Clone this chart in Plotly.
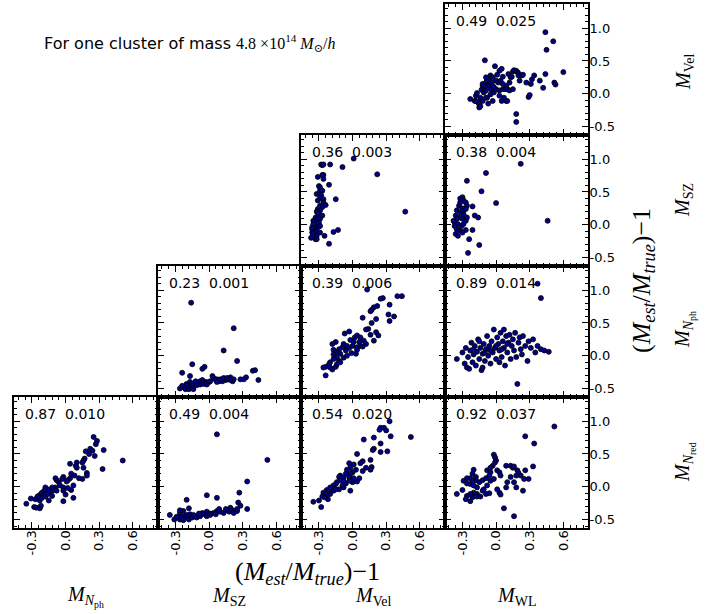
import plotly.graph_objects as go

# ---------------- data (fractional mass bias, (M_est/M_true)-1) ----------------
# Row 1: x = M_WL, y = M_Vel
wl_vel_x = [-0.23,-0.19,-0.18,-0.17,-0.16,-0.15,-0.15,-0.14,-0.13,-0.12,-0.12,-0.12,-0.11,-0.10,-0.10,-0.09,-0.09,-0.09,
            -0.08,-0.08,-0.07,-0.06,-0.06,-0.06,-0.05,-0.05,-0.04,-0.04,-0.03,-0.03,-0.03,-0.02,-0.01,0.00,0.00,0.01,
            0.02,0.03,0.03,0.04,0.05,0.05,0.06,0.06,0.07,0.08,0.09,0.09,0.10,0.11,0.12,0.12,0.13,0.14,0.15,0.15,
            0.16,0.18,0.19,0.20,0.20,0.21,0.23,0.24,0.27,0.29,0.30,0.31,0.32,0.34,0.39,0.42,0.44,0.44,0.45,0.51,
            0.52,0.53,0.60,0.18,0.18,-0.18,-0.14,-0.09,-0.02,0.03,0.10,0.06,-0.09]
wl_vel_y = [-0.08,-0.11,-0.03,0.01,-0.13,-0.21,-0.16,-0.06,0.06,0.12,0.15,-0.11,0.02,0.07,0.51,0.17,0.11,0.05,
            0.20,-0.06,-0.15,0.09,0.15,0.24,0.28,-0.01,0.17,0.06,-0.11,0.12,0.25,0.02,0.42,0.20,0.07,0.29,
            0.17,0.05,0.35,0.20,0.38,-0.11,0.07,0.26,-0.06,0.07,-0.11,0.12,0.07,0.30,0.05,0.17,0.25,0.26,0.07,0.34,
            0.36,0.35,0.33,0.31,0.28,0.20,0.28,0.29,0.17,-0.05,-0.02,0.15,0.22,0.28,0.20,0.09,0.30,0.94,0.67,0.80,
            0.17,0.14,0.33,-0.31,-0.43,-0.11,-0.19,-0.06,0.10,-0.03,-0.11,0.15,0.25]

# Row 2: x = M_Vel, y = M_SZ
vel_sz_x = [-0.28,-0.27,-0.26,-0.20,-0.09,0.01,0.22,0.47,-0.31,-0.26,-0.26,-0.27,-0.21,-0.30,-0.29,-0.29,-0.27,
            -0.32,-0.28,-0.29,-0.26,-0.31,-0.26,-0.24,-0.29,-0.27,-0.31,-0.29,-0.32,-0.30,-0.33,-0.31,-0.29,-0.35,
            -0.32,-0.30,-0.35,-0.33,-0.31,-0.36,-0.34,-0.32,-0.36,-0.35,-0.32,-0.37,-0.33,-0.29,-0.25,-0.21,-0.17,
            -0.13,-0.15,-0.32,-0.34,-0.31,-0.27,-0.29,-0.36,-0.35]
vel_sz_y = [0.92,0.91,0.92,0.92,0.88,1.01,0.77,0.20,0.73,0.70,0.76,0.76,0.61,0.59,0.57,0.52,0.52,
            0.47,0.45,0.41,0.39,0.37,0.34,0.30,0.29,0.27,0.24,0.22,0.20,0.16,0.11,0.10,0.09,0.06,
            0.04,0.03,-0.01,-0.02,-0.04,-0.07,-0.09,-0.11,-0.12,-0.14,-0.17,-0.20,-0.22,-0.12,-0.17,-0.29,-0.11,
            -0.08,0.39,-0.22,-0.03,0.18,0.14,-0.02,-0.04,0.01]

# Row 2: x = M_WL, y = M_SZ
wl_sz_x = [-0.26,-0.09,-0.13,0.00,0.22,0.46,-0.30,-0.32,-0.29,-0.27,-0.26,-0.21,-0.33,-0.30,-0.35,-0.32,-0.29,
           -0.19,-0.16,-0.36,-0.33,-0.30,-0.27,-0.37,-0.34,-0.31,-0.37,-0.35,-0.32,-0.27,-0.21,-0.36,-0.34,-0.24,
           -0.15,-0.25,-0.29,-0.26,-0.29,-0.32,-0.35,-0.38,-0.30,-0.27]
wl_sz_y = [0.67,0.79,0.51,0.33,0.93,0.06,0.42,0.40,0.37,0.34,0.29,0.28,0.29,0.25,0.22,0.19,0.16,
           0.14,0.11,0.14,0.11,0.09,0.06,0.04,0.01,-0.02,-0.02,-0.07,-0.09,-0.08,-0.08,-0.14,-0.17,-0.22,
           -0.31,-0.43,0.01,0.11,0.22,0.34,0.09,0.06,-0.12,0.24]

# Row 3: x = M_SZ, y = M_Nph
sz_nph_x = [-0.16,0.22,0.13,0.25,-0.15,-0.06,-0.04,-0.24,-0.17,0.39,0.41,0.33,0.28,0.31,0.44,0.19,0.17,0.21,
            0.15,0.12,0.03,0.04,0.07,0.09,0.00,-0.03,-0.06,-0.09,-0.12,-0.14,-0.17,-0.20,-0.23,-0.26,-0.21,-0.18,
            -0.15,-0.11,-0.08,-0.05,-0.02,0.01,0.06,0.10,0.13,0.16,0.22,-0.20,-0.17,-0.15,-0.12,-0.08,-0.06,-0.24,
            -0.20,-0.14,-0.02,0.07,0.19]
sz_nph_y = [0.81,0.42,0.08,-0.08,-0.13,-0.20,-0.17,-0.26,-0.31,-0.23,-0.22,-0.33,-0.36,-0.36,-0.37,-0.33,-0.36,-0.39,
            -0.37,-0.39,-0.31,-0.34,-0.36,-0.39,-0.40,-0.40,-0.41,-0.41,-0.43,-0.45,-0.46,-0.48,-0.48,-0.50,-0.51,-0.51,
            -0.49,-0.45,-0.44,-0.43,-0.41,-0.39,-0.37,-0.36,-0.34,-0.34,-0.36,-0.43,-0.40,-0.43,-0.39,-0.39,-0.37,-0.46,
            -0.45,-0.51,-0.44,-0.40,-0.37]

# Row 3: x = M_Vel, y = M_Nph
vel_nph_x = [0.13,0.40,0.44,0.27,0.25,0.33,0.22,0.19,0.17,0.16,0.32,0.37,0.09,0.21,0.17,0.33,0.14,0.12,0.21,0.23,
             0.19,-0.07,-0.03,0.04,0.02,0.07,0.10,0.06,-0.02,0.01,-0.08,-0.05,-0.09,-0.15,-0.18,-0.17,-0.12,-0.14,
             -0.11,-0.06,-0.03,0.00,0.04,0.03,-0.14,-0.17,-0.12,-0.08,-0.20,-0.21,-0.24,-0.26,-0.20,-0.18,-0.15,
             -0.11,-0.14,-0.24,-0.05,-0.01,0.04,0.07,0.12,0.16,0.09,-0.17]
vel_nph_y = [1.01,0.91,0.91,0.88,0.87,0.78,0.76,0.74,0.70,0.68,0.63,0.60,0.58,0.56,0.50,0.53,0.41,0.40,0.36,0.31,
             0.23,0.34,0.37,0.31,0.28,0.28,0.23,0.21,0.24,0.21,0.18,0.15,0.13,0.21,0.18,0.09,0.10,0.05,
             0.03,0.08,0.12,0.15,0.09,0.03,-0.03,-0.05,-0.08,-0.03,-0.10,-0.13,-0.17,-0.18,-0.18,-0.21,-0.17,
             -0.10,-0.13,-0.30,0.00,0.04,0.13,0.15,0.18,0.32,0.14,0.02]

# Row 3: x = M_WL, y = M_Nph
wl_nph_x = [0.37,0.40,-0.35,-0.30,-0.28,-0.27,-0.25,-0.24,-0.23,-0.22,-0.21,-0.20,-0.19,-0.18,-0.17,-0.16,-0.15,
            -0.14,-0.13,-0.12,-0.11,-0.10,-0.09,-0.08,-0.07,-0.06,-0.05,-0.04,-0.03,-0.02,-0.01,0.00,0.01,0.02,
            0.03,0.04,0.05,0.06,0.07,0.08,0.09,0.10,0.11,0.12,0.13,0.14,0.15,0.16,0.17,0.18,0.19,0.20,0.21,0.22,
            0.23,0.24,0.26,0.28,0.29,0.31,0.33,0.35,0.37,0.40,0.43,0.47,-0.20,-0.15,-0.10,-0.05,0.00,0.05,0.10,
            -0.26,-0.12,0.03,0.07]
wl_nph_y = [1.10,0.88,-0.05,0.05,-0.12,0.12,-0.02,-0.20,0.08,0.20,-0.10,0.02,0.15,-0.15,0.06,0.25,-0.05,
            0.12,-0.22,0.03,0.18,-0.08,0.10,0.30,0.00,0.15,-0.12,0.22,0.05,0.40,0.12,-0.05,0.28,0.18,
            0.08,0.35,-0.02,0.22,0.12,-0.15,0.30,0.05,0.20,0.32,-0.05,0.15,0.25,0.08,0.35,-0.02,-0.43,0.20,0.28,0.10,
            0.02,0.30,0.15,-0.08,0.22,0.12,0.25,0.05,0.15,0.10,0.08,0.06,0.10,0.22,0.05,0.08,0.15,0.10,0.18,
            -0.18,-0.18,-0.10,0.40]

# Row 4: x = M_Nph, y = M_Nred
nph_nred_x = [0.25,0.28,0.27,0.22,0.24,0.34,0.18,0.26,0.21,0.17,0.16,0.15,0.10,0.09,0.04,0.16,0.10,0.33,0.51,
              0.19,0.19,0.15,0.12,0.08,0.05,0.04,0.02,0.01,-0.02,-0.03,-0.06,-0.08,-0.09,-0.05,-0.02,0.02,0.05,
              0.07,-0.02,0.00,0.07,-0.02,-0.09,-0.10,-0.13,-0.15,-0.16,-0.18,-0.19,-0.21,-0.22,-0.24,-0.25,-0.27,
              -0.23,-0.21,-0.18,-0.16,-0.12,-0.15,-0.28,-0.26,-0.23,-0.22,-0.31,-0.35,-0.08,-0.12]
nph_nred_y = [0.76,0.70,0.65,0.58,0.55,0.56,0.54,0.47,0.50,0.43,0.40,0.37,0.37,0.32,0.35,0.29,0.29,0.27,0.40,
              0.21,0.17,0.12,0.13,0.17,0.20,0.13,0.10,0.08,0.15,0.12,0.07,0.10,0.13,0.02,-0.01,-0.02,-0.05,
              0.02,-0.06,-0.12,-0.17,-0.22,-0.01,-0.05,-0.09,-0.06,-0.04,-0.01,-0.06,-0.09,-0.11,-0.14,-0.15,-0.19,
              -0.21,-0.17,-0.15,-0.11,-0.14,-0.21,-0.31,-0.32,-0.33,-0.29,-0.18,-0.26,-0.06,-0.01]

# Row 4: x = M_SZ, y = M_Nred
sz_nred_x = [0.07,0.52,0.34,0.27,-0.02,0.07,-0.20,0.26,0.34,-0.35,-0.31,-0.27,-0.24,-0.26,-0.21,-0.20,-0.18,
             -0.15,-0.12,-0.11,-0.08,-0.04,-0.02,0.01,0.04,0.07,0.10,0.09,0.13,0.16,0.18,0.21,0.22,0.25,0.28,
             -0.26,-0.23,-0.17,-0.06,0.01,0.06,0.15,0.19,0.25,-0.29,-0.23,-0.14,-0.02,-0.09,-0.18,-0.26]
sz_nred_y = [0.80,0.41,0.08,-0.09,-0.13,-0.17,-0.20,-0.24,-0.34,-0.43,-0.50,-0.47,-0.45,-0.50,-0.46,-0.43,-0.50,
             -0.47,-0.45,-0.47,-0.45,-0.42,-0.38,-0.41,-0.40,-0.37,-0.38,-0.34,-0.40,-0.36,-0.38,-0.36,-0.40,-0.37,
             -0.29,-0.40,-0.37,-0.42,-0.40,-0.43,-0.42,-0.34,-0.32,-0.34,-0.46,-0.51,-0.43,-0.45,-0.41,-0.33,-0.36]

# Row 4: x = M_Vel, y = M_Nred
vel_nred_x = [0.33,0.25,0.28,0.30,0.24,0.34,0.52,0.10,0.19,0.25,0.19,0.18,0.25,0.31,0.04,0.09,0.07,0.16,0.17,
              0.16,-0.03,0.01,-0.02,0.03,-0.05,0.00,-0.06,-0.11,-0.08,-0.03,0.01,0.06,0.04,0.00,-0.02,-0.12,
              -0.11,-0.14,-0.15,-0.17,-0.18,-0.20,-0.23,-0.26,-0.21,-0.20,-0.23,-0.27,-0.28,-0.35,-0.30,-0.17,
              -0.12,-0.08,-0.06,-0.09,-0.15,-0.03,0.09,0.12,-0.02,-0.08,-0.22,-0.25]
vel_nred_y = [1.00,0.90,0.90,0.86,0.87,0.77,0.76,0.72,0.75,0.66,0.58,0.56,0.53,0.54,0.50,0.39,0.36,0.41,0.30,
              0.26,0.36,0.34,0.29,0.26,0.26,0.22,0.20,0.17,0.14,0.15,0.13,0.13,0.08,0.07,-0.06,0.15,
              0.10,0.07,0.04,0.02,-0.02,-0.01,-0.05,-0.09,-0.08,-0.11,-0.14,-0.15,-0.31,-0.23,-0.21,-0.06,
              -0.04,-0.01,0.05,0.02,-0.04,0.09,0.24,0.29,0.20,0.08,-0.19,-0.16]

# Row 4: x = M_WL, y = M_Nred
wl_nred_x = [0.52,0.26,0.34,0.33,-0.02,-0.01,0.00,-0.01,-0.03,-0.05,-0.08,-0.20,-0.21,-0.18,-0.23,-0.26,-0.29,
             -0.26,-0.23,-0.20,-0.17,-0.15,-0.12,-0.09,-0.06,-0.05,0.01,0.03,0.04,0.09,0.13,0.15,0.16,0.19,0.20,
             0.22,0.25,0.29,0.26,0.18,0.13,0.10,0.16,0.18,0.24,0.09,0.03,0.01,-0.06,-0.09,-0.12,-0.17,-0.20,-0.23,
             -0.26,-0.27,-0.23,-0.30,-0.35,-0.21,-0.17,-0.14,-0.11,-0.08,-0.05,-0.02,0.07,0.16,0.04,-0.18,-0.21]
wl_nred_y = [0.92,0.77,0.66,0.31,0.49,0.45,0.40,0.37,0.32,0.29,0.25,0.26,0.20,0.15,0.13,0.13,0.09,
             0.05,0.04,0.02,-0.01,0.07,0.10,0.13,0.17,0.22,0.25,0.22,0.17,0.32,0.32,0.29,0.31,0.25,0.21,
             0.17,0.12,0.12,0.25,0.17,0.15,0.07,0.07,-0.01,-0.06,-0.01,-0.09,-0.04,-0.10,-0.11,-0.06,-0.11,-0.09,
             -0.11,-0.14,-0.19,-0.22,-0.05,-0.11,-0.16,-0.15,-0.15,-0.04,0.02,0.09,0.12,-0.33,-0.45,-0.12,0.10,0.09]

# panel statistics shown in each panel
panel_stats = {
    (1, 4): "0.49  0.025",
    (2, 3): "0.36  0.003", (2, 4): "0.38  0.004",
    (3, 2): "0.23  0.001", (3, 3): "0.39  0.006", (3, 4): "0.89  0.014",
    (4, 1): "0.87  0.010", (4, 2): "0.49  0.004", (4, 3): "0.54  0.020", (4, 4): "0.92  0.037",
}
panel_data = {
    (1, 4): (wl_vel_x, wl_vel_y),
    (2, 3): (vel_sz_x, vel_sz_y), (2, 4): (wl_sz_x, wl_sz_y),
    (3, 2): (sz_nph_x, sz_nph_y), (3, 3): (vel_nph_x, vel_nph_y), (3, 4): (wl_nph_x, wl_nph_y),
    (4, 1): (nph_nred_x, nph_nred_y), (4, 2): (sz_nred_x, sz_nred_y),
    (4, 3): (vel_nred_x, vel_nred_y), (4, 4): (wl_nred_x, wl_nred_y),
}

x_tickvals = [-0.3, 0.0, 0.3, 0.6]
x_ticktext = ["-0.3", "0.0", "0.3", "0.6"]
y_tickvals = [-0.5, 0.0, 0.5, 1.0]
y_ticktext = ["-0.5", "0.0", "0.5", "1.0"]
x_range = [-0.46, 0.82]
y_range = [-0.63, 1.37]

# ---------------- layout geometry ----------------
W, H = 720, 614
col_left = 14.0
col_w = 143.5
row_top = 4.0
row_h = 131.0

def px(x):
    return x / W

def py(y):
    return 1 - y / H

SERIF = "Liberation Serif, DejaVu Serif, serif"
SANS = "DejaVu Sans, sans-serif"

fig = go.Figure()
layout = dict(
    width=W, height=H,
    margin=dict(l=0, r=0, t=0, b=0, autoexpand=False),
    paper_bgcolor="white", plot_bgcolor="white",
    showlegend=False,
    font=dict(family=SANS, size=12, color="black"),
)
annotations = []

for k, ((r, c), (xs, ys)) in enumerate(panel_data.items(), start=1):
    xname = "x" if k == 1 else f"x{k}"
    yname = "y" if k == 1 else f"y{k}"
    fig.add_trace(go.Scatter(
        x=xs, y=ys, mode="markers", xaxis=xname, yaxis=yname,
        marker=dict(size=5, color="#00008b", line=dict(color="black", width=0.8)),
        hoverinfo="skip",
    ))
    x0 = col_left + col_w * (c - 1)
    x1 = x0 + col_w
    y0 = row_top + row_h * (r - 1)
    y1 = y0 + row_h
    layout["xaxis" if k == 1 else f"xaxis{k}"] = dict(
        domain=[px(x0), px(x1)], range=x_range, anchor=yname,
        showline=True, linecolor="black", linewidth=2, mirror="allticks",
        ticks="inside", ticklen=6, tickwidth=1.3, tickcolor="black",
        tickvals=x_tickvals, ticktext=x_ticktext, tickangle=-90,
        showticklabels=(r == 4), tickfont=dict(family=SANS, size=13),
        ticklabelstandoff=-5,
        showgrid=False, zeroline=False, fixedrange=True,
        minor=dict(ticks="inside", ticklen=3, tickwidth=1, tickcolor="black",
                   tick0=0, dtick=0.06, showgrid=False),
    )
    layout["yaxis" if k == 1 else f"yaxis{k}"] = dict(
        domain=[py(y1), py(y0)], range=y_range, anchor=xname, side="right",
        showline=True, linecolor="black", linewidth=2, mirror="allticks",
        ticks="inside", ticklen=6, tickwidth=1.3, tickcolor="black",
        tickvals=y_tickvals, ticktext=y_ticktext,
        showticklabels=(c == 4), tickfont=dict(family=SANS, size=13),
        ticklabelstandoff=-3,
        showgrid=False, zeroline=False, fixedrange=True,
        minor=dict(ticks="inside", ticklen=3, tickwidth=1, tickcolor="black",
                   tick0=0, dtick=0.1, showgrid=False),
    )
    annotations.append(dict(
        text=panel_stats[(r, c)], x=px(x0 + 9), y=py(y0 + 17),
        xref="paper", yref="paper", xanchor="left", yanchor="middle",
        showarrow=False, font=dict(family=SANS, size=14, color="black"),
    ))

# title
annotations.append(dict(
    text=("For one cluster of mass "
          f"<span style='font-family:{SERIF}'>4.8 ×10<sup>14</sup> <i>M</i><sub>⊙</sub>/<i>h</i></span>"),
    x=px(42), y=py(43), xref="paper", yref="paper", xanchor="left", yanchor="middle",
    showarrow=False, font=dict(family=SANS, size=16, color="black"),
))

# row labels (right side)
row_labels = ["<i>M</i><sub>Vel</sub>", "<i>M</i><sub>SZ</sub>",
              "<i>M</i><sub><i>N</i><sub>ph</sub></sub>", "<i>M</i><sub><i>N</i><sub>red</sub></sub>"]
row_label_y = [72, 200, 330, 462]
for lab, yy in zip(row_labels, row_label_y):
    annotations.append(dict(
        text=lab, x=px(684), y=py(yy), xref="paper", yref="paper",
        xanchor="center", yanchor="middle", textangle=-90, showarrow=False,
        font=dict(family=SERIF, size=20, color="black"),
    ))

# column labels (bottom)
col_labels = ["<i>M</i><sub><i>N</i><sub>ph</sub></sub>", "<i>M</i><sub>SZ</sub>",
              "<i>M</i><sub>Vel</sub>", "<i>M</i><sub>WL</sub>"]
for i, lab in enumerate(col_labels):
    annotations.append(dict(
        text=lab, x=px(col_left + col_w * (i + 0.5)), y=py(596), xref="paper", yref="paper",
        xanchor="center", yanchor="middle", showarrow=False,
        font=dict(family=SERIF, size=20, color="black"),
    ))

axis_title = "(<i>M</i><sub><i>est</i></sub>/<i>M</i><sub><i>true</i></sub>)−1"
annotations.append(dict(
    text=axis_title, x=px(307), y=py(573), xref="paper", yref="paper",
    xanchor="center", yanchor="middle", showarrow=False,
    font=dict(family=SERIF, size=26, color="black"),
))
annotations.append(dict(
    text=axis_title, x=px(643), y=py(281), xref="paper", yref="paper",
    xanchor="center", yanchor="middle", textangle=-90, showarrow=False,
    font=dict(family=SERIF, size=26, color="black"),
))

layout["annotations"] = annotations
fig.update_layout(**layout)
fig.write_html(
    "out.html",
    config={"displayModeBar": False},
    post_script="document.body.style.margin='0px';document.documentElement.style.margin='0px';",
)
